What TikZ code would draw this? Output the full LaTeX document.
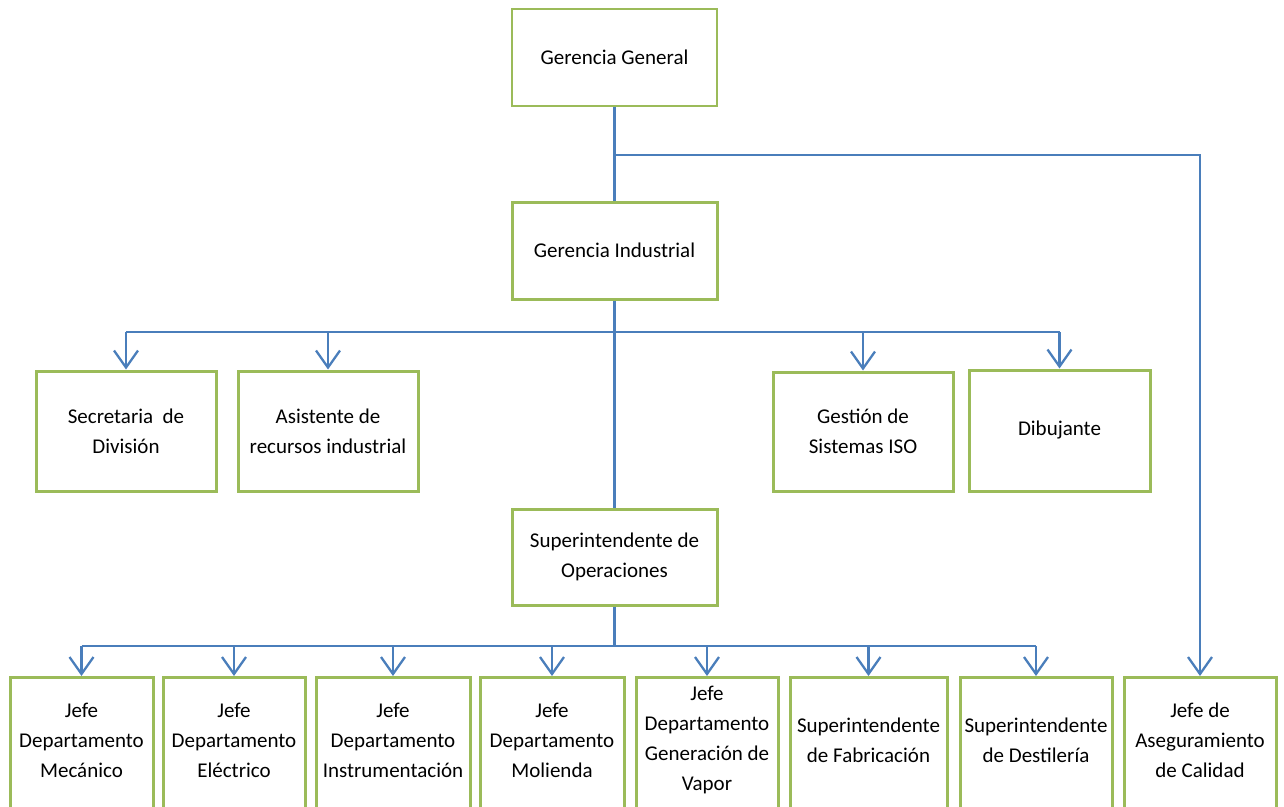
\documentclass[tikz,border=0pt]{standalone}
\usepackage{fontspec}
\setmainfont{Carlito}
\usetikzlibrary{arrows.meta}
\definecolor{boxgreen}{HTML}{9BBB59}
\definecolor{linkblue}{HTML}{4A7EBB}
\tikzset{
  label font/.style={font=\fontsize{21}{30}\selectfont},
  unit/.style={draw=boxgreen, line width=3pt, fill=white, inner sep=0pt,
    align=center, label font},
  topunit/.style={unit, line width=1.3pt},
  % department boxes run past the lower edge; their text sits in its own node
  deptbox/.style={draw=boxgreen, line width=3pt, fill=white, inner sep=0pt,
    anchor=north, minimum height=160pt},
  depttext/.style={inner sep=0pt, align=center, label font},
  link/.style={draw=linkblue, line width=2.3pt},
  down/.style={link, -{Straight Barb[length=17pt, width=24pt, line width=2.3pt]}}
}
\begin{document}
\begin{tikzpicture}[x=1pt, y=-1pt]
\useasboundingbox (0,0) rectangle (1284,806);
\clip (0,0) rectangle (1284,806);

% management levels
\node[topunit, minimum width=205pt, minimum height=97pt] (gg) at (614.5,57.5) {Gerencia General};
\node[unit, minimum width=205pt, minimum height=97pt] (gi) at (614.5,250.5) {Gerencia Industrial};
\node[unit, minimum width=205pt, minimum height=96pt] (sup) at (614.5,557) {Superintendente de\\Operaciones};

% staff units under Gerencia Industrial
\node[unit, minimum width=180pt, minimum height=120pt] (sec) at (126,431) {Secretaria~~de\\División};
\node[unit, minimum width=180pt, minimum height=120pt] (asi) at (328,431) {Asistente de\\recursos industrial};
\node[unit, minimum width=180pt, minimum height=119pt] (ges) at (863,431.5) {Gestión de\\Sistemas ISO};
\node[unit, minimum width=181pt, minimum height=121pt] (dib) at (1059.5,430.5) {Dibujante};

% operating departments
\node[deptbox, minimum width=143pt] (mec) at (81.5,676) {};
\node[deptbox, minimum width=142pt] (ele) at (234,676) {};
\node[deptbox, minimum width=154pt] (ins) at (393,676) {};
\node[deptbox, minimum width=144pt] (mol) at (552,676) {};
\node[deptbox, minimum width=142pt] (gen) at (707,676) {};
\node[deptbox, minimum width=157pt] (fab) at (868.5,676) {};
\node[deptbox, minimum width=152pt] (des) at (1036,676) {};
\node[deptbox, minimum width=152pt] (cal) at (1200,676) {};

\node[depttext] (mecT) at ([yshift=-64pt]mec.north) {Jefe\\Departamento\\Mecánico};
\node[depttext] (eleT) at ([yshift=-64pt]ele.north) {Jefe\\Departamento\\Eléctrico};
\node[depttext] (insT) at ([yshift=-64pt]ins.north) {Jefe\\Departamento\\Instrumentación};
\node[depttext] (molT) at ([yshift=-64pt]mol.north) {Jefe\\Departamento\\Molienda};
\node[depttext] (genT) at ([yshift=-64pt]gen.north) {Jefe\\Departamento\\Generación de\\Vapor};
\node[depttext] (fabT) at ([yshift=-64pt]fab.north) {Superintendente\\de Fabricación};
\node[depttext] (desT) at ([yshift=-64pt]des.north) {Superintendente\\de Destilería};
\node[depttext] (calT) at ([yshift=-64pt]cal.north) {Jefe de\\Aseguramiento\\de Calidad};

% branch points
\coordinate (b0) at (614.5,155);
\coordinate (b1) at (614.5,332);
\coordinate (b2) at (614.5,646);

% Gerencia General
\draw[link] (gg.south) -- (gi.north);
\draw[down] (b0) -| (cal.north);

% Gerencia Industrial
\draw[link] (gi.south) -- (sup.north);
\draw[link] (sec.north |- b1) -- (dib.north |- b1);
\foreach \n in {sec,asi,ges,dib}
  \draw[down] (\n.north |- b1) -- (\n.north);

% Superintendente de Operaciones
\draw[link] (sup.south) -- (b2);
\draw[link] (mec.north |- b2) -- (des.north |- b2);
\foreach \n in {mec,ele,ins,mol,gen,fab,des}
  \draw[down] (\n.north |- b2) -- (\n.north);
\end{tikzpicture}
\end{document}
